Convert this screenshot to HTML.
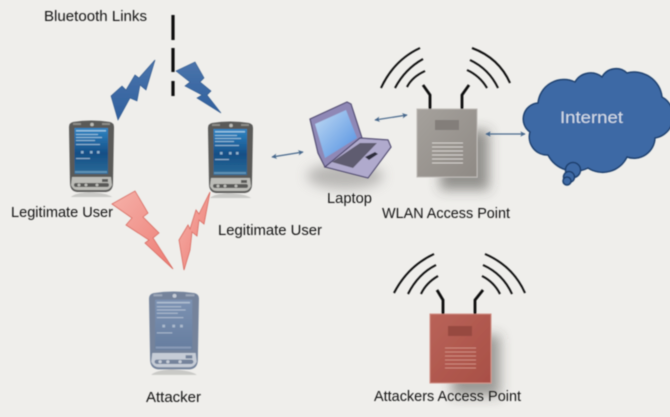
<!DOCTYPE html>
<html>
<head>
<meta charset="utf-8">
<style>
html,body{margin:0;padding:0;background:#efeeeb;width:670px;height:417px;overflow:hidden}
svg{display:block}
text{font-family:"Liberation Sans",sans-serif;fill:#161616;font-size:14.500px}
</style>
</head>
<body>
<svg width="670" height="417" viewBox="0 0 670 417" xmlns="http://www.w3.org/2000/svg">
<defs>
<filter id="s" x="-10%" y="-10%" width="120%" height="120%"><feGaussianBlur stdDeviation="0.400"/></filter>
<filter id="b" x="-50%" y="-50%" width="200%" height="200%"><feGaussianBlur stdDeviation="6"/></filter>
<linearGradient id="blue" x1="0" y1="0" x2="0" y2="1"><stop offset="0" stop-color="#4a74ab"/><stop offset="1" stop-color="#30609e"/></linearGradient>
<linearGradient id="red" x1="0" y1="0" x2="1" y2="1"><stop offset="0" stop-color="#f5b1a9"/><stop offset="1" stop-color="#ee7c74"/></linearGradient>
<linearGradient id="scr" x1="0" y1="0" x2="0" y2="1"><stop offset="0" stop-color="#2f86c4"/><stop offset=".55" stop-color="#154f86"/><stop offset="1" stop-color="#2a6b98"/></linearGradient>
<linearGradient id="scrA" x1="0" y1="0" x2="0" y2="1"><stop offset="0" stop-color="#7c92b2"/><stop offset="1" stop-color="#667d9f"/></linearGradient>
<linearGradient id="lcd" x1="0" y1="0" x2="1" y2="1"><stop offset="0" stop-color="#c1dbf4"/><stop offset="1" stop-color="#4f8ee0"/></linearGradient>
<linearGradient id="ap" x1="0" y1="0" x2="1" y2="1"><stop offset="0" stop-color="#a5a19c"/><stop offset="1" stop-color="#8f8a85"/></linearGradient>
<linearGradient id="ra" x1="0" y1="0" x2="1" y2="1"><stop offset="0" stop-color="#b96358"/><stop offset="1" stop-color="#a84f46"/></linearGradient>
<marker id="ah" viewBox="0 0 8 8" refX="7" refY="4" markerWidth="4.500" markerHeight="4.500" orient="auto-start-reverse"><path d="M0 0L8 4L0 8L2 4Z" fill="#46688c"/></marker>
<g id="phone">
<path d="M20 71q-14 1-18 5h41q-5-4-23-5z" fill="#b9b9b6" opacity=".7"/>
<path d="M4 1Q22-2 41 1Q45 2 45 6L44 62Q44 70 37 71H8Q1 70 1 62L0 6Q0 2 4 1Z" fill="var(--body)"/>
<rect x="5.500" y="7" width="33.500" height="46" fill="var(--scr)"/>
<g fill="var(--hl)" opacity=".65">
<rect x="7" y="9" width="30" height="1.500"/><rect x="7" y="13" width="22" height="1"/><rect x="7" y="16" width="26" height="1"/><rect x="7" y="19" width="19" height="1"/><rect x="7" y="23" width="24" height="1"/>
<rect x="12" y="30" width="2.500" height="2.500"/><rect x="21" y="30" width="2.500" height="2.500"/><rect x="28" y="30" width="2.500" height="2.500"/><rect x="7" y="37" width="14" height="1"/><rect x="6" y="50" width="32" height="2" opacity=".5"/>
</g>
<path d="M3 56L42 56L43 64Q41 69 36 69H9Q4 69 2 64Z" fill="var(--low)"/>
<rect x="5" y="62" width="35" height="4" rx="2" fill="var(--body)"/>
<circle cx="10" cy="64" r="1.500" fill="var(--low)"/><circle cx="17" cy="64" r="1.500" fill="var(--low)"/><circle cx="28" cy="64" r="1.500" fill="var(--low)"/><rect x="33" y="58" width="6" height="3" fill="var(--body)"/>
<circle cx="23" cy="3.500" r="1.800" fill="var(--low)"/>
<rect x="4" y="2" width="8" height="2" fill="var(--low)" opacity=".5"/><rect x="33" y="2" width="8" height="2" fill="var(--low)" opacity=".5"/>
</g>
</defs>

<rect width="670" height="417" fill="#efeeeb"/>

<g filter="url(#s)">
<ellipse cx="345" cy="176" rx="38" ry="13" fill="#8c8a88" opacity=".55" filter="url(#b)"/>
<path d="M440 130H489V190H440Z" fill="#55524f" opacity=".6" filter="url(#b)"/>
<path d="M452 335H500V396H452Z" fill="#55524f" opacity=".55" filter="url(#b)"/>

<g stroke="#111" stroke-width="3.200" fill="none">
<path d="M173 15V40M173 48V72M173 81V96"/>
</g>

<path d="M155 60L146 90L140 85L137 101L130 98L118 120L111 96L122 86L126 90L135 75L139 78Z" fill="url(#blue)" stroke="#2e5589" stroke-width=".6"/>
<path d="M176 71L195 62L204 78L200 82L211 91L207 95L221 113L197 98L202 95L185 86L190 82Z" fill="url(#blue)" stroke="#2e5589" stroke-width=".6"/>

<path d="M112 204L135 191L148 213L143 217L159 233L153 238L173 269L145 243L149 240L126 225L132 218Z" fill="url(#red)" stroke="#d8695f" stroke-width=".8"/>
<path d="M210 192L204 224L199 220L197 236L192 232L190 250L184 270L179 240L188 225L190 229L196 210L199 214Z" fill="url(#red)" stroke="#d8695f" stroke-width=".8"/>

<use href="#phone" x="69" y="121" style="--body:#5a5a58;--scr:url(#scr);--hl:#cfe5f2;--low:#bdbdb8"/>
<use href="#phone" x="208" y="122" style="--body:#5a5a58;--scr:url(#scr);--hl:#cfe5f2;--low:#bdbdb8"/>
<use href="#phone" transform="translate(149 292) scale(1.110 1.090)" style="--body:#74839b;--scr:url(#scrA);--hl:#ccd6e2;--low:#c6ccd6"/>

<g stroke="#46688c" stroke-width="1.200" fill="none">
<path d="M272 157L303 152" marker-start="url(#ah)" marker-end="url(#ah)"/>
<path d="M375 120L407 115" marker-start="url(#ah)" marker-end="url(#ah)"/>
<path d="M486 134L525 134" marker-start="url(#ah)" marker-end="url(#ah)"/>
</g>

<path d="M310 119L347 102L351 104L362 138L325 167L318 153Z" fill="#8f88b6" stroke="#4f4870" stroke-width="1.200"/>
<path d="M315 124L346 110L357 138L325 158Z" fill="url(#lcd)"/>
<path d="M325 167L360 138L388 140L391 147L368 178Z" fill="#b0aacd" stroke="#4f4870" stroke-width="1.200"/>
<path d="M332 162L360 143L377 143L353 168Z" fill="#5f5c70"/>
<path d="M365 157L375 152L378 154L369 160Z" fill="#2f2d3c"/>

<rect x="417" y="109" width="60" height="68" fill="url(#ap)" stroke="#bcb8b4" stroke-width="1"/>
<rect x="435" y="120" width="24" height="10" fill="#837e7a"/>
<g stroke="#d5d2ce" stroke-width="1"><path d="M432 143H463M432 147H463M432 151H463M432 155H463M432 159H463M432 163H463"/></g>
<g stroke="#111" fill="none">
<path d="M430 109V95L423 85M462 109V95L469 85" stroke-width="2.800"/>
<path d="M381 88Q394 60 420 48M395 88Q405 69 423 59M407 87Q412 77 425 71" stroke-width="2"/>
<path d="M472 48Q499 58 510 83M470 60Q489 69 498 88M467 70Q480 76 487 88" stroke-width="2"/>
</g>

<rect x="430" y="314" width="61" height="69" fill="url(#ra)" stroke="#d08f84" stroke-width="1"/>
<rect x="448" y="326" width="24" height="10" fill="#97493f"/>
<g stroke="#cf8c80" stroke-width="1"><path d="M445 348H476M445 352H476M445 356H476M445 360H476M445 364H476M445 368H476"/></g>
<g stroke="#111" fill="none">
<path d="M443 314V300L437 290M475 314V300L483 290" stroke-width="2.800"/>
<path d="M394 293Q408 266 434 254M408 294Q418 274 436 265M421 294Q426 283 438 276" stroke-width="2"/>
<path d="M485 254Q513 266 525 293M483 265Q503 274 512 294M482 276Q494 282 500 294" stroke-width="2"/>
</g>

<g fill="#3d69a5" stroke="#1f3f6e" stroke-width="1.500">
<path d="M530 132A16 16 0 0 1 538 103A26 26 0 0 1 575 82A18 18 0 0 1 602 77A16 16 0 0 1 627 73A28 28 0 0 1 662 97A22 22 0 0 1 655 138A21 21 0 0 1 627 157A27 27 0 0 1 588 168A30 30 0 0 1 548 155A18 18 0 0 1 530 132Z"/>
<circle cx="573" cy="170" r="7.500"/>
<circle cx="569" cy="177" r="5.500"/>
<circle cx="567" cy="181" r="4"/>
</g>
<text x="560" y="123" style="font-size:17px;fill:#d3dce8" textLength="63" lengthAdjust="spacingAndGlyphs">Internet</text>

<text x="44" y="21" textLength="103" lengthAdjust="spacingAndGlyphs">Bluetooth Links</text>
<text x="11" y="217" textLength="102" lengthAdjust="spacingAndGlyphs">Legitimate User</text>
<text x="218" y="235" textLength="104" lengthAdjust="spacingAndGlyphs">Legitimate User</text>
<text x="327" y="203" textLength="45" lengthAdjust="spacingAndGlyphs">Laptop</text>
<text x="382" y="218" textLength="128" lengthAdjust="spacingAndGlyphs">WLAN Access Point</text>
<text x="146" y="402" textLength="55" lengthAdjust="spacingAndGlyphs">Attacker</text>
<text x="374" y="401" textLength="147" lengthAdjust="spacingAndGlyphs">Attackers Access Point</text>
</g>
</svg>
</body>
</html>
